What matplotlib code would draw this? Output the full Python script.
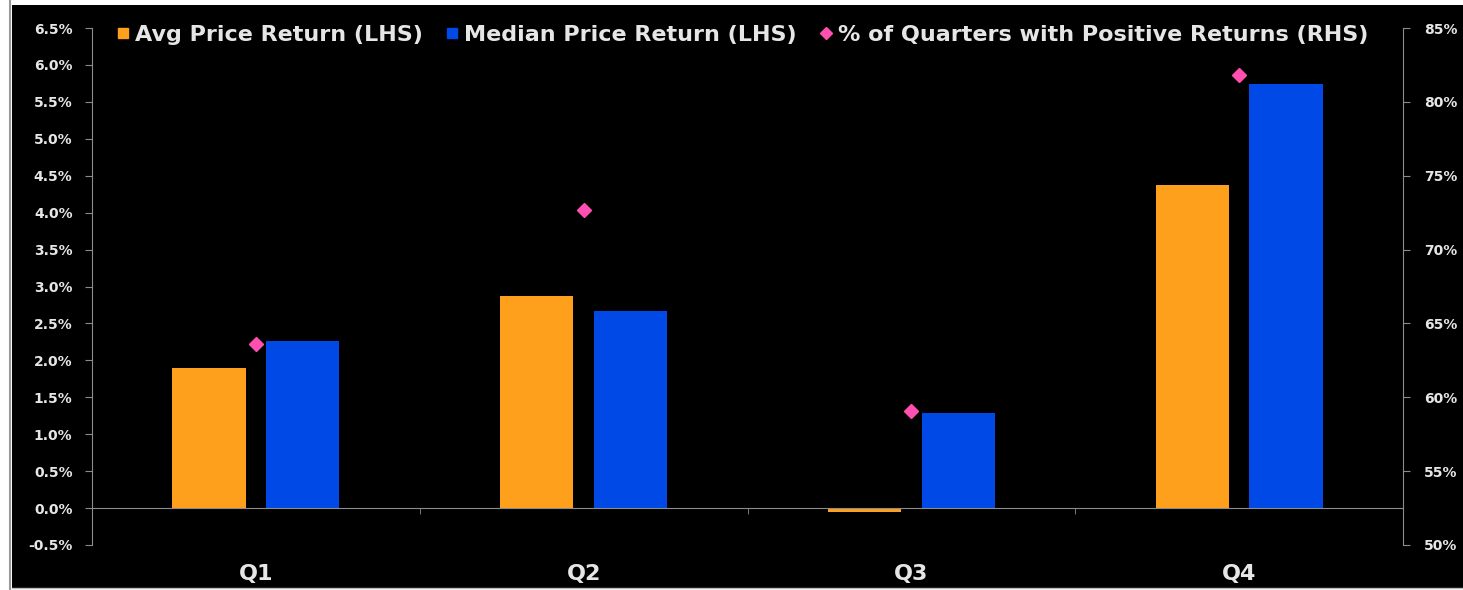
import matplotlib
matplotlib.use("Agg")
import matplotlib.pyplot as plt
import numpy as np
from matplotlib.lines import Line2D
from matplotlib.ticker import FuncFormatter, MultipleLocator
from matplotlib.patches import Rectangle

quarters = ["Q1", "Q2", "Q3", "Q4"]
avg_return = [1.9, 2.87, -0.05, 4.37]
median_return = [2.26, 2.67, 1.29, 5.74]
pct_positive = [63.6, 72.7, 59.1, 81.8]

orange = "#ffa01c"
blue = "#0049e6"
pink = "#ff4fb0"
txt = "#e6e6e6"
grey = "#8c8c8c"

plt.rcParams['font.family'] = ['DejaVu Sans']
plt.rcParams['font.weight'] = 'bold'

fig = plt.figure(figsize=(14.63, 5.90), dpi=100, facecolor="white")
fig.patches.append(Rectangle((12/1463, 2/590), 1 - 12/1463, 583/590, transform=fig.transFigure,
                             facecolor="black", edgecolor="none", zorder=-10))
fig.add_artist(Line2D([10/1463, 10/1463], [0, 1], transform=fig.transFigure, color="#999999", lw=1.5))
fig.add_artist(Line2D([12/1463, 1], [2/590, 2/590], transform=fig.transFigure, color="#bbbbbb", lw=1))

ax = fig.add_axes([92/1463, 1 - 545/590, (1403 - 92)/1463, (545 - 28)/590])
ax.set_facecolor("black")
ax.patch.set_alpha(0)

x = np.arange(len(quarters))
w = 0.223
off = 0.143
ax.bar(x - off, avg_return, w, color=orange, label="Avg Price Return (LHS)", zorder=2)
ax.bar(x + off, median_return, w, color=blue, label="Median Price Return (LHS)", zorder=2)

ax.set_xlim(-0.5, 3.5)
ax.set_ylim(-0.5, 6.5)
ax.yaxis.set_major_locator(MultipleLocator(0.5))
ax.yaxis.set_major_formatter(FuncFormatter(lambda v, p: f"{v:.1f}%"))

for s in ["top", "right"]:
    ax.spines[s].set_visible(False)
ax.spines["left"].set_color(grey)
ax.spines["bottom"].set_position(("data", 0))
ax.spines["bottom"].set_color(grey)
ax.spines["bottom"].set_zorder(3)

ax.set_xticks(x)
ax.set_xticklabels(quarters)
ax.set_xticks([0.5, 1.5, 2.5], minor=True)
ax.tick_params(axis="x", which="major", length=0, pad=40, labelsize=16, labelcolor=txt)
ax.tick_params(axis="x", which="minor", length=4, color=grey, direction="out")
ax.tick_params(axis="y", length=5, color=grey, labelsize=10, labelcolor=txt, pad=9)

ax2 = ax.twinx()
ax2.set_ylim(50, 85)
ax2.yaxis.set_major_locator(MultipleLocator(5))
ax2.yaxis.set_major_formatter(FuncFormatter(lambda v, p: f"{v:.0f}%"))
ax2.plot(x, pct_positive, linestyle="none", marker="D", markersize=7, color=pink,
         label="% of Quarters with Positive Returns (RHS)", zorder=4)
for s in ["top", "left", "bottom"]:
    ax2.spines[s].set_visible(False)
ax2.spines["right"].set_color(grey)
ax2.tick_params(axis="y", length=5, color=grey, labelsize=10, labelcolor=txt, pad=10)

handles = [
    Line2D([], [], linestyle="none", marker="s", markersize=7, color=orange),
    Line2D([], [], linestyle="none", marker="s", markersize=7, color=blue),
    Line2D([], [], linestyle="none", marker="D", markersize=6, color=pink),
]
labels = ["Avg Price Return (LHS)", "Median Price Return (LHS)",
          "% of Quarters with Positive Returns (RHS)"]
leg = ax.legend(handles, labels, loc="center", bbox_to_anchor=(0.496, 0.986), ncol=3,
                frameon=False, fontsize=16, labelcolor=txt, handlelength=0.6,
                handletextpad=0.25, columnspacing=1.0, borderpad=0)

fig.savefig("out.png", dpi=100, facecolor=fig.get_facecolor())
